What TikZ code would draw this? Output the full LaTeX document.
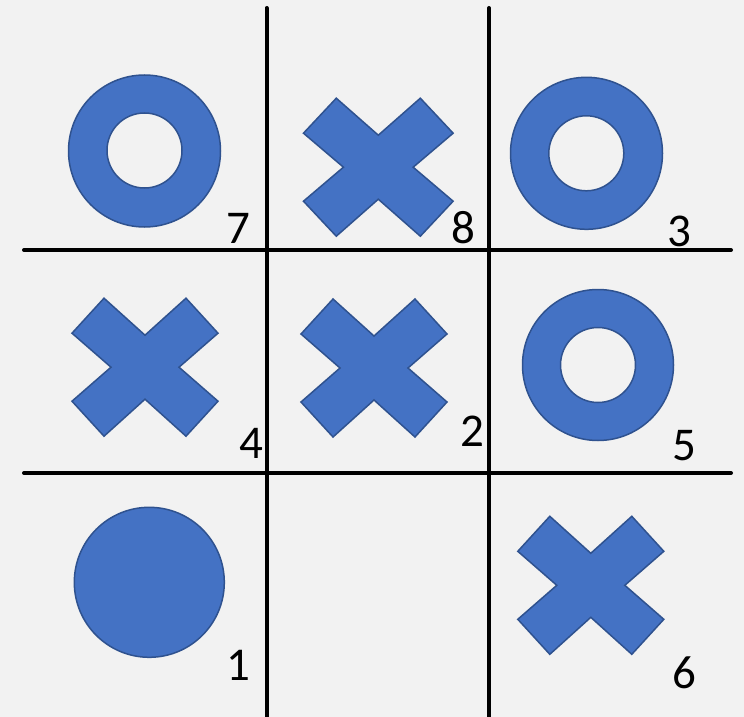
\documentclass[tikz,border=0pt]{standalone}
\usepackage{fontspec}
\setmainfont{Carlito}
\definecolor{bg}{HTML}{F2F2F2}
\definecolor{fillblue}{HTML}{4472C4}
\definecolor{edgeblue}{HTML}{2F528F}
\tikzset{
  gridline/.style={line width=4pt, line cap=round, black},
  piece/.style={fill=fillblue, draw=edgeblue, line width=1.5pt, line join=miter},
  hole/.style={fill=bg, draw=edgeblue, line width=1.5pt},
  num/.style={font=\fontsize{47}{50}\selectfont, inner sep=0pt, text=black},
  xmark/.pic={
    \path[piece] (-41,-69) -- (0,-32) -- (41,-69) -- (73,-34) -- (34,0) -- (73,34)
      -- (41,69) -- (0,32) -- (-41,69) -- (-73,34) -- (-34,0) -- (-73,-34) -- cycle;
  }
}
\begin{document}
\begin{tikzpicture}[x=1pt,y=-1pt]
\path[fill=bg] (0,0) rectangle (744,717);
\useasboundingbox (0,0) rectangle (744,717);
% grid
\coordinate (v1t) at (266.5,8); \coordinate (v1b) at (266.5,720);
\coordinate (v2t) at (489,8); \coordinate (v2b) at (489,720);
\coordinate (h1l) at (24,250); \coordinate (h1r) at (731,250);
\coordinate (h2l) at (24,473); \coordinate (h2r) at (731,473);
\draw[gridline] (v1t) -- (v1b);
\draw[gridline] (v2t) -- (v2b);
\draw[gridline] (h1l) -- (h1r);
\draw[gridline] (h2l) -- (h2r);
% O pieces
\path[piece] (144.5,151) circle[radius=76];
\path[hole] (144.5,150.5) circle[radius=37.5];
\path[piece] (586.5,153.3) circle[radius=76];
\path[hole] (586.3,153.3) circle[radius=37.5];
\path[piece] (598,365) circle[radius=75.5];
\path[hole] (598,365) circle[radius=37.5];
% filled circle
\path[piece] (149.3,582.3) circle[radius=75];
% X pieces
\pic[xscale=1.025] at (378.3,167.2) {xmark};
\pic at (145,367.2) {xmark};
\pic at (374,368) {xmark};
\pic at (590.8,585.3) {xmark};
% numbers
\node[num] (n7) at (238,228) {7};
\node[num] (n8) at (463.3,227.5) {8};
\node[num] (n3) at (679.5,231.7) {3};
\node[num] (n4) at (251,443) {4};
\node[num] (n2) at (472.7,431.7) {2};
\node[num] (n5) at (684.5,445.7) {5};
\node[num] (n1) at (238,665) {1};
\node[num] (n6) at (684,672.5) {6};
\end{tikzpicture}
\end{document}
